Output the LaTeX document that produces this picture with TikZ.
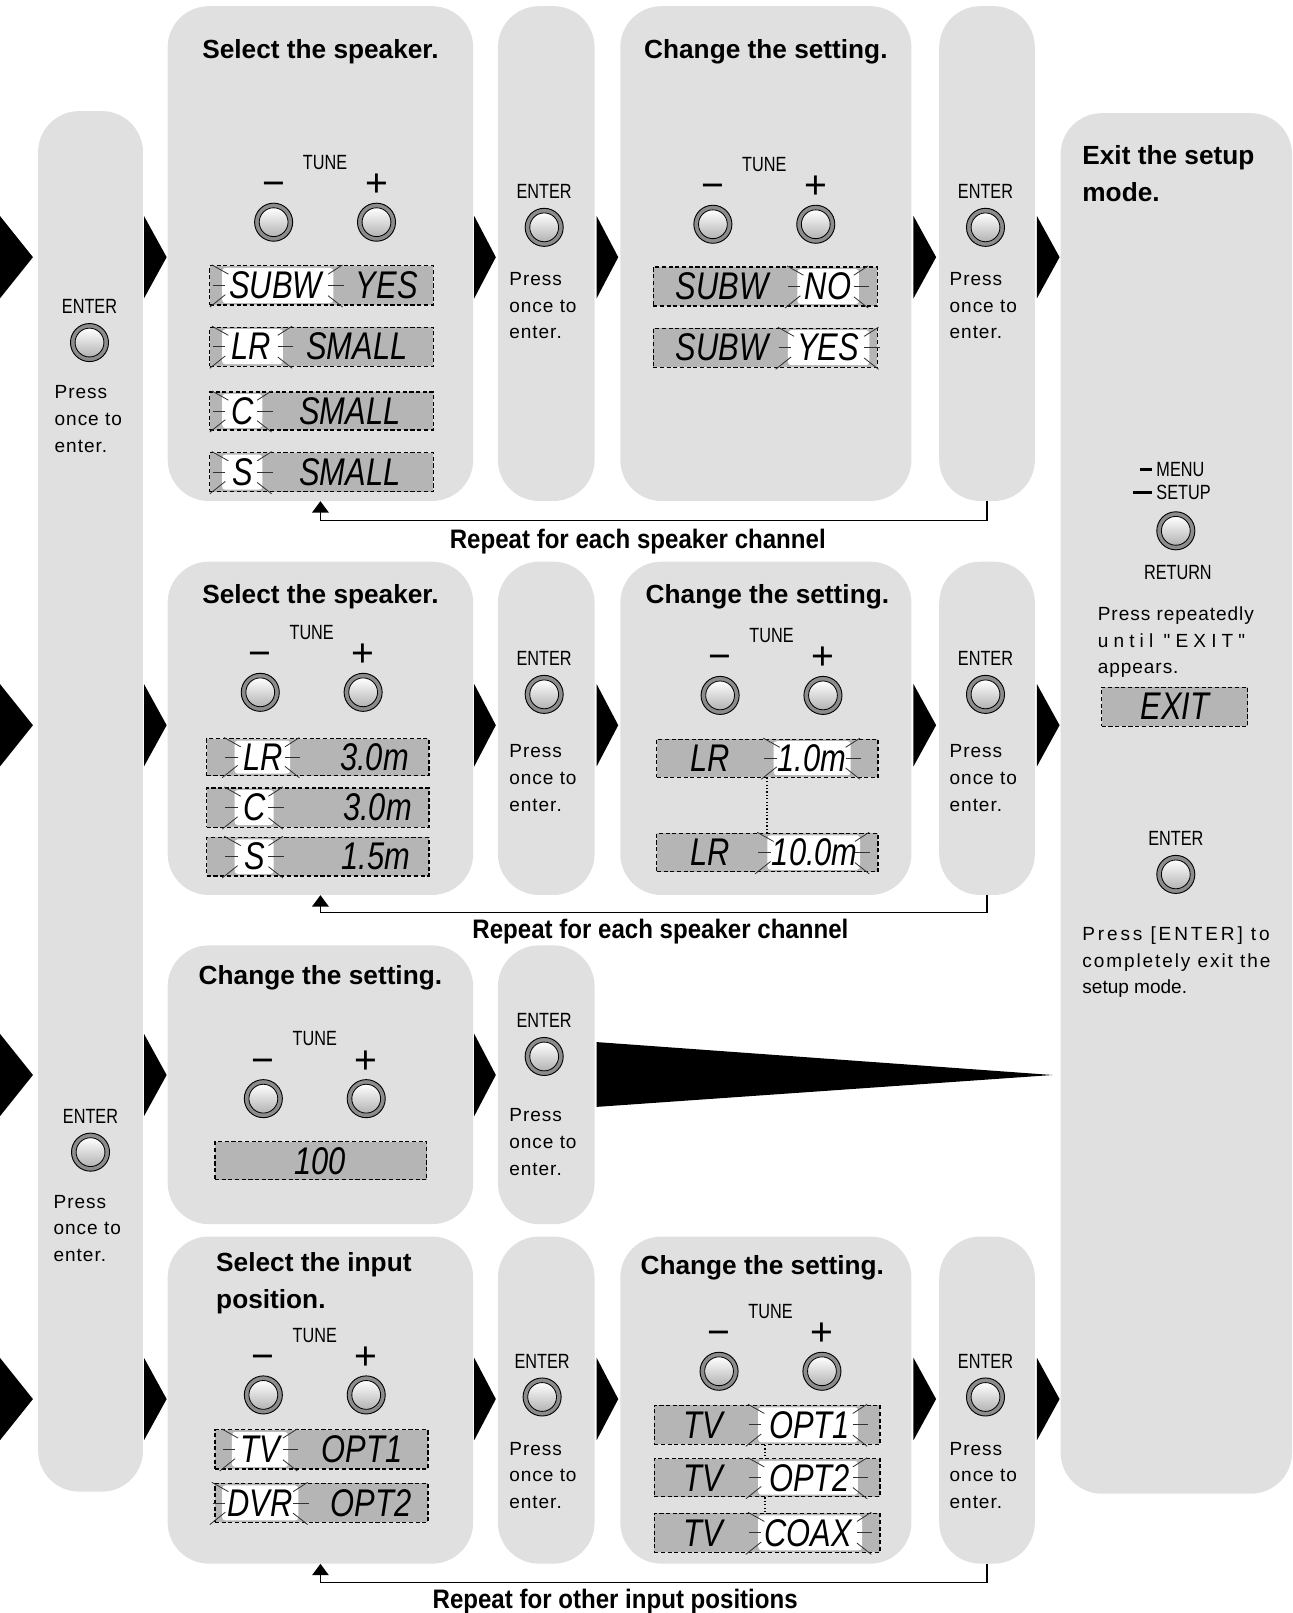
\documentclass[tikz,border=0pt]{standalone}
\usepackage{fontspec}
\setmainfont{Liberation Sans}
\newfontfamily\condfont[FakeStretch=0.79]{Liberation Sans}
\newfontfamily\repfont[FakeStretch=0.9]{Liberation Sans}
\newfontface\lcdfont[FakeStretch=0.8]{Liberation Sans Italic}
\usetikzlibrary{arrows.meta,fit}

\definecolor{panelgray}{gray}{0.88}
\definecolor{lcdgray}{gray}{0.71}
\definecolor{ringgray}{gray}{0.55}

% keys and displays
\newcommand\enterkey[3]{%
  \node[keylabel] (#1lbl) at (#2,#3-35) {ENTER};
  \node[keyring] (#1) at (#2,#3) {};
  \node[keycap] (#1cap) at (#2,#3) {};
}
\newcommand\tunekeys[3]{%
  \node[keylabel] (#1lbl) at (#2+50,#3-58) {TUNE};
  \node[keysign] (#1minus) at (#2,#3-38) {−};
  \node[keysign] (#1plus) at (#2+100,#3-38) {+};
  \node[keyring] (#1m) at (#2,#3) {};
  \node[keycap] (#1mcap) at (#2,#3) {};
  \node[keyring] (#1p) at (#2+100,#3) {};
  \node[keycap] (#1pcap) at (#2+100,#3) {};
}
\newcommand\lcd[5]{\node[lcdbox, fit={(#2,#3) (#4,#5)}] (#1) {};}
\newcommand\blink[4]{%
  \fill[white, rounded corners=3pt] (#1,#3+2) rectangle (#2,#4-2);
  \draw[spark] (#1-9,{(#3+#4)/2}) -- (#1+3,{(#3+#4)/2});
  \draw[spark] (#2-5,{(#3+#4)/2}) -- (#2+10,{(#3+#4)/2});
  \draw[spark] (#1-10,#3-1) -- (#1+6,#3+8);
  \draw[spark] (#1-12,#4+2) -- (#1+3,#4-10);
  \draw[spark] (#2-5,#3+8) -- (#2+9,#3-1);
  \draw[spark] (#2-5,#4-9) -- (#2+9,#4+2);
}
\newcommand\pointer[3]{\fill (#1,#2-40) -- (#1+#3,#2) -- (#1,#2+40) -- cycle;}

\begin{document}
\begin{tikzpicture}[x=1pt,y=-1pt,
  panel/.style={fill=panelgray, rounded corners=40pt, inner sep=0pt},
  lcdbox/.style={draw, fill=lcdgray, line width=1.1pt, dash pattern=on 4pt off 2.5pt, inner sep=0pt},
  lcdtext/.style={font=\lcdfont\fontsize{37.5}{40}\selectfont, inner sep=0pt},
  spark/.style={line width=0.8pt, black!80},
  keyring/.style={circle, draw, line width=0.9pt, fill=ringgray, minimum size=37pt, inner sep=0pt},
  keycap/.style={circle, draw, line width=0.8pt, top color=white, bottom color=black!30, minimum size=28pt, inner sep=0pt},
  keylabel/.style={font=\condfont\fontsize{20}{20}\selectfont, inner sep=0pt},
  keysign/.style={font=\fontsize{38}{38}\selectfont, inner sep=0pt, text height=26.6pt, text depth=0pt},
  paneltitle/.style={font=\fontsize{25.5}{36.5}\selectfont\bfseries, inner sep=0pt, anchor=base},
  note/.style={font=\fontsize{18.5}{26}\selectfont\addfontfeature{LetterSpace=5}, align=left, anchor=north west, inner sep=0pt},
  repeatlbl/.style={font=\repfont\bfseries\fontsize{26}{30}\selectfont, inner sep=0pt, anchor=base},
  loopback/.style={line width=1.3pt, -{Triangle[length=11pt,width=16pt]}},
  linkdots/.style={dotted, line width=1.3pt}]

\useasboundingbox (0,0) rectangle (1256,1568);

% Panels
\node[panel, fit={(37,108) (139,1450)}] (c0) {};
\node[panel, fit={(1031,110) (1256,1452)}] (x0) {};
\node[panel, fit={(163,6) (460,487)}] (s1) {};
\node[panel, fit={(484,6) (578,487)}] (e11) {};
\node[panel, fit={(603,6) (886,487)}] (c1) {};
\node[panel, fit={(913,6) (1006,487)}] (e12) {};
\node[panel, fit={(163,546) (460,870)}] (s2) {};
\node[panel, fit={(484,546) (578,870)}] (e21) {};
\node[panel, fit={(603,546) (886,870)}] (c2) {};
\node[panel, fit={(913,546) (1006,870)}] (e22) {};
\node[panel, fit={(163,919) (460,1190)}] (s3) {};
\node[panel, fit={(484,919) (578,1190)}] (e31) {};
\node[panel, fit={(163,1202) (460,1520)}] (s4) {};
\node[panel, fit={(484,1202) (578,1520)}] (e41) {};
\node[panel, fit={(603,1202) (886,1520)}] (c4) {};
\node[panel, fit={(913,1202) (1006,1520)}] (e42) {};

% Pointers
\foreach \y in {250,705,1045,1360}
{
\pointer{0}{\y}{32}
\pointer{140}{\y}{22}
\pointer{461}{\y}{21}
}
\foreach \y in {250,705,1360}
{
\pointer{580}{\y}{21}
\pointer{888}{\y}{22}
\pointer{1008}{\y}{22}
}
\fill (580,1013) -- (1023,1045) -- (580,1076) -- cycle;

% Left column
\enterkey{k0a}{87}{333}
\node[note] (n0a) at (53,374.5) {Press\\once to\\enter.};
\enterkey{k0b}{88}{1120}
\node[note] (n0b) at (52,1161.5) {Press\\once to\\enter.};

% Row 1
\node[paneltitle] (t1s) at (311.5,57) {Select the speaker.};
\tunekeys{u1s}{266}{216}
\lcd{d1sa}{204}{258.5}{421}{296.5}
\blink{216}{324}{258.5}{296.5}
\node[lcdtext] (d1sa1) at (268,277.5) {SUBW};
\node[lcdtext] (d1sa2) at (376,277.5) {YES};
\lcd{d1sb}{204}{318}{421}{356}
\blink{216}{275}{318}{356}
\node[lcdtext] (d1sb1) at (244,337) {LR};
\node[lcdtext] (d1sb2) at (347,337) {SMALL};
\lcd{d1sc}{204}{381}{421}{418}
\blink{216}{255}{381}{418}
\node[lcdtext] (d1sc1) at (236,399.5) {C};
\node[lcdtext] (d1sc2) at (340,399.5) {SMALL};
\lcd{d1sd}{204}{440}{421}{478}
\blink{216}{255}{440}{478}
\node[lcdtext] (d1sd1) at (236,459) {S};
\node[lcdtext] (d1sd2) at (340,459) {SMALL};

\enterkey{k11}{529}{221}
\node[note] (n11) at (495,264.5) {Press\\once to\\enter.};

\node[paneltitle] (t1c) at (744.5,57) {Change the setting.};
\tunekeys{u1c}{693}{218}
\lcd{d1ca}{635}{259.5}{853}{297.5}
\blink{775}{835}{259.5}{297.5}
\node[lcdtext] (d1ca1) at (702,278.5) {SUBW};
\node[lcdtext] (d1ca2) at (805,278.5) {NO};
\lcd{d1cb}{635}{319}{853}{357}
\blink{766}{845}{319}{357}
\node[lcdtext] (d1cb1) at (702,338) {SUBW};
\node[lcdtext] (d1cb2) at (805,338) {YES};

\enterkey{k12}{958}{221}
\node[note] (n12) at (923,264.5) {Press\\once to\\enter.};

\draw[loopback] (e12.south) -- ++(0,19) -| (s1.south);
\node[repeatlbl] (r1) at (620,533.3) {Repeat for each speaker channel};

% Row 2
\node[paneltitle] (t2s) at (311.5,587) {Select the speaker.};
\tunekeys{u2s}{253}{673}
\lcd{d2sa}{201}{718}{417}{754}
\blink{228}{282}{718}{754}
\node[lcdtext] (d2sa1) at (256,736) {LR};
\node[lcdtext] (d2sa2) at (364,736) {3.0m};
\lcd{d2sb}{201}{766}{417}{804}
\blink{228}{266}{766}{804}
\node[lcdtext] (d2sb1) at (248,785) {C};
\node[lcdtext] (d2sb2) at (367,785) {3.0m};
\lcd{d2sc}{201}{814}{417}{851.5}
\blink{228}{266}{814}{851.5}
\node[lcdtext] (d2sc1) at (248,832.75) {S};
\node[lcdtext] (d2sc2) at (365.5,832.75) {1.5m};

\enterkey{k21}{529}{675}
\node[note] (n21) at (495,723.5) {Press\\once to\\enter.};

\node[paneltitle] (t2c) at (746,587) {Change the setting.};
\tunekeys{u2c}{700}{676}
\lcd{d2ca}{638.5}{718.5}{853.5}{755.5}
\blink{752}{827}{718.5}{755.5}
\node[lcdtext] (d2ca1) at (690,737) {LR};
\node[lcdtext] (d2ca2) at (789,737) {1.0m};
\lcd{d2cb}{638.5}{810}{853.5}{847.5}
\blink{746}{836}{810}{847.5}
\node[lcdtext] (d2cb1) at (690,828.75) {LR};
\node[lcdtext] (d2cb2) at (792,828.75) {10.0m};
\draw[linkdots] (d2ca.south -| 745.6,0) -- (d2cb.north -| 745.6,0);

\enterkey{k22}{958}{675}
\node[note] (n22) at (923,723.5) {Press\\once to\\enter.};

\draw[loopback] (e22.south) -- ++(0,17) -| (s2.south);
\node[repeatlbl] (r2) at (642,912.3) {Repeat for each speaker channel};

% Row 3
\node[paneltitle] (t3s) at (311.5,957) {Change the setting.};
\tunekeys{u3s}{256}{1068}
\lcd{d3sa}{209}{1110}{415}{1147}
\node[lcdtext] (d3sa1) at (311,1128.5) {100};

\enterkey{k31}{529}{1027}
\node[note] (n31) at (495,1077.5) {Press\\once to\\enter.};

% Row 4
\node[paneltitle, align=left, anchor=north west] (t4s) at (210,1217) {Select the input\\position.};
\tunekeys{u4s}{256}{1356}
\lcd{d4sa}{209}{1390}{416}{1428}
\blink{225.5}{280}{1390}{1428}
\node[lcdtext] (d4sa1) at (253,1409) {TV};
\node[lcdtext] (d4sa2) at (352,1409) {OPT1};
\lcd{d4sb}{209}{1442}{416}{1480}
\blink{216}{290}{1442}{1480}
\node[lcdtext] (d4sb1) at (253,1461) {DVR};
\node[lcdtext] (d4sb2) at (360.6,1461) {OPT2};

\enterkey{k41}{527}{1358}
\node[note] (n41) at (495,1401.5) {Press\\once to\\enter.};

\node[paneltitle] (t4c) at (741,1239) {Change the setting.};
\tunekeys{u4c}{699}{1333}
\lcd{d4ca}{636}{1366}{855.5}{1404}
\blink{737}{834}{1366}{1404}
\node[lcdtext] (d4ca1) at (683.5,1385) {TV};
\node[lcdtext] (d4ca2) at (787,1385) {OPT1};
\lcd{d4cb}{636}{1418}{855.5}{1455}
\blink{737}{834}{1418}{1455}
\node[lcdtext] (d4cb1) at (683.5,1436.5) {TV};
\node[lcdtext] (d4cb2) at (787,1436.5) {OPT2};
\lcd{d4cc}{636}{1471}{855.5}{1509}
\blink{737}{838}{1471}{1509}
\node[lcdtext] (d4cc1) at (683.5,1490) {TV};
\node[lcdtext] (d4cc2) at (785.5,1490) {COAX};
\draw[linkdots] (d4ca.south -| 743.6,0) -- (d4cb.north -| 743.6,0);
\draw[linkdots] (d4cb.south -| 743.6,0) -- (d4cc.north -| 743.6,0);

\enterkey{k42}{958}{1358}
\node[note] (n42) at (923,1401.5) {Press\\once to\\enter.};

\draw[loopback] (e42.south) -- ++(0,18) -| (s4.south);
\node[repeatlbl] (r4) at (598,1563.3) {Repeat for other input positions};

% Exit column
\node[paneltitle, align=left, anchor=north west] (tx) at (1052,141) {Exit the setup\\mode.};
\node[keylabel, anchor=west] (kmenu) at (1124,456) {MENU};
\node[keylabel, anchor=west] (ksetup) at (1124,478.5) {SETUP};
\draw[line width=2.8pt] (kmenu.west) ++(-4,0) -- ++(-12,0);
\draw[line width=2.8pt] (ksetup.west) ++(-4,0) -- ++(-19,0);
\node[keyring] (kret) at (1143,516) {};
\node[keycap] (kretcap) at (1143,516) {};
\node[keylabel] (kretlbl) at (1145,557) {RETURN};
\node[note] (nx1) at (1067,589.5) {Press repeatedly\\{\addfontfeature{LetterSpace=27,Ligatures=TeXOff}until "EXIT"}\\appears.};
\lcd{dx}{1071}{668}{1213}{706}
\node[lcdtext] (dx1) at (1142,687) {EXIT};
\enterkey{kx}{1143}{850}
\node[note] (nx2) at (1052,900.5) {{\addfontfeature{LetterSpace=15}Press [ENTER] to}\\{\addfontfeature{LetterSpace=10}completely exit the}\\{\addfontfeature{LetterSpace=0}setup mode.}};

\end{tikzpicture}
\end{document}
